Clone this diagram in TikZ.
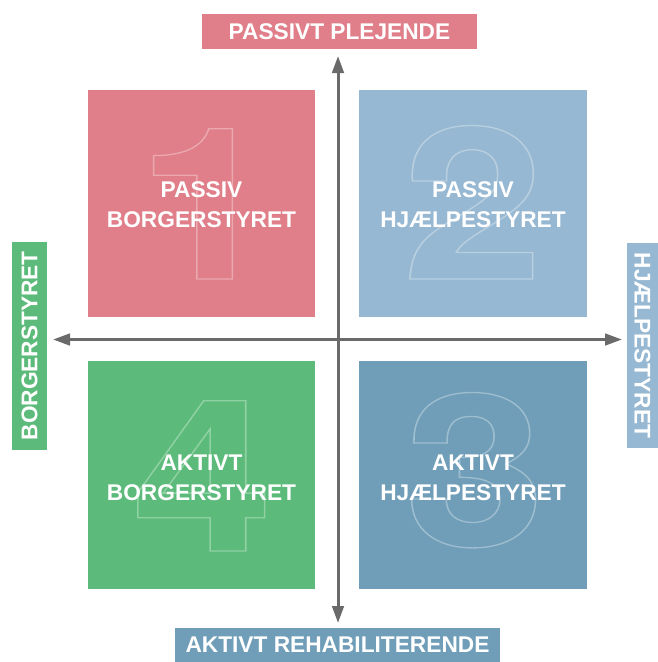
\documentclass[tikz,border=0pt]{standalone}
\usepackage{fontspec}
\setmainfont{Liberation Sans}
\newfontfamily\digitfont{TeX Gyre Heros}
\usetikzlibrary{arrows.meta}
\definecolor{cpink}{HTML}{E07F8A}
\definecolor{clblue}{HTML}{97B8D2}
\definecolor{cgreen}{HTML}{5CBB7A}
\definecolor{cblue}{HTML}{709EB9}
\definecolor{caxis}{HTML}{6A6A6A}
\newcommand{\bigdigit}[2]{\textcolor{#1}{\special{pdf:literal direct 1 Tr 1.3 w}#2\special{pdf:literal direct 0 Tr}}}
\begin{document}
\begin{tikzpicture}[x=1pt,y=-1pt,
  quad/.style={draw=none,minimum size=227.5pt,inner sep=0pt},
  qtext/.style={text=white,align=center,inner sep=0pt,font=\bfseries\fontsize{22.7}{30}\selectfont},
  digit/.style={inner sep=0pt,anchor=base,xscale=1.2,font=\digitfont\bfseries\fontsize{212}{212}\selectfont},
  lab/.style={text=white,inner sep=0pt,font=\bfseries\fontsize{22.7}{27}\selectfont},
  axis/.style={draw=caxis,line width=3pt,{Triangle[length=17pt,width=11.5pt]}-{Triangle[length=17pt,width=11.5pt]}}]
\useasboundingbox (0,0) rectangle (658,662);
\fill[white] (0,0) rectangle (658,662);
% quadrants
\node[quad,fill=cpink] (q1) at (201.5,203.5) {};
\node[quad,fill=clblue] (q2) at (473,203.5) {};
\node[quad,fill=cblue] (q3) at (473,475) {};
\node[quad,fill=cgreen] (q4) at (201.5,475) {};
% big outlined digits
\node[digit] (d1) at (207,279) {\bigdigit{white!32!cpink}{1}};
\node[digit] (d2) at (473,279) {\bigdigit{white!32!clblue}{2}};
\node[digit] (d3) at (475,546) {\bigdigit{white!32!cblue}{3}};
\node[digit] (d4) at (202.5,551) {\bigdigit{white!32!cgreen}{4}};
% quadrant texts
\node[qtext] (t1) at (201.5,205) {PASSIV\\BORGERSTYRET};
\node[qtext] (t2) at (473,205) {PASSIV\\HJÆLPESTYRET};
\node[qtext] (t3) at (473,478) {AKTIVT\\HJÆLPESTYRET};
\node[qtext] (t4) at (201.5,478) {AKTIVT\\BORGERSTYRET};
% axes
\coordinate (atop) at (338,56);
\coordinate (abot) at (338,623);
\coordinate (alft) at (53,339.5);
\coordinate (argt) at (622,339.5);
\draw[axis] (abot) -- (atop);
\draw[axis] (alft) -- (argt);
% axis labels
\node[lab,fill=cpink,minimum width=275pt,minimum height=34.5pt] (ltop) at (339.5,31.4) {PASSIVT PLEJENDE};
\node[lab,fill=cblue,minimum width=325pt,minimum height=34pt] (lbot) at (337.5,645) {AKTIVT REHABILITERENDE};
\node[lab,fill=cgreen,rotate=90,minimum width=207.5pt,minimum height=35pt] (llft) at (29.5,345.75) {BORGERSTYRET};
\node[lab,fill=clblue,rotate=-90,minimum width=205pt,minimum height=31pt] (lrgt) at (642.5,345.5) {HJÆLPESTYRET};
\end{tikzpicture}
\end{document}
